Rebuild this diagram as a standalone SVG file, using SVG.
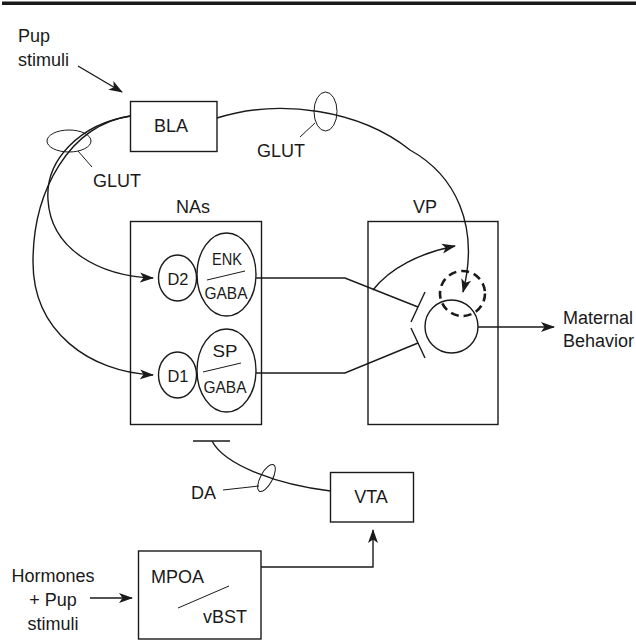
<svg xmlns="http://www.w3.org/2000/svg" width="636" height="644" viewBox="0 0 636 644">
<style>
text{font-family:"Liberation Sans",Arial,sans-serif;font-size:18px;fill:#1a1a1a}
.s{font-size:17px}
.b{fill:none;stroke:#1a1a1a;stroke-width:1.4}
.c{fill:none;stroke:#1a1a1a;stroke-width:1.4}
.ar{marker-end:url(#ah)}
.thin{stroke-width:1}
</style>
<defs>
<marker id="ah" markerUnits="userSpaceOnUse" markerWidth="14" markerHeight="12" viewBox="0 0 14 10" refX="13" refY="5" orient="auto">
<path d="M0,0 L14,5 L0,10 L3.5,5 Z" fill="#1a1a1a"/>
</marker>
</defs>
<rect x="2" y="1.5" width="634" height="3.5" fill="#1a1a1a"/>

<g id="pup-stimuli">
<text x="18" y="42">Pup</text>
<text x="18" y="66">stimuli</text>
</g>
<g id="BLA">
<rect class="b" x="130.5" y="101.5" width="86.5" height="50"/>
<text x="171" y="132" text-anchor="middle">BLA</text>
</g>
<g id="NAs">
<text x="193" y="213" text-anchor="middle">NAs</text>
<rect class="b" x="130.5" y="221.5" width="131" height="203"/>
<ellipse class="b" cx="177.5" cy="278" rx="19" ry="23"/>
<text class="s" x="178" y="285" text-anchor="middle" textLength="21" lengthAdjust="spacingAndGlyphs">D2</text>
<ellipse class="b" cx="226.5" cy="274.5" rx="29.5" ry="41.5"/>
<text class="s" x="227" y="265" text-anchor="middle" textLength="30" lengthAdjust="spacingAndGlyphs">ENK</text>
<line class="b thin" x1="207" y1="280" x2="245" y2="271"/>
<text class="s" x="226" y="299" text-anchor="middle" textLength="43" lengthAdjust="spacingAndGlyphs">GABA</text>
<ellipse class="b" cx="177.5" cy="375" rx="19" ry="23"/>
<text class="s" x="178" y="382" text-anchor="middle" textLength="21" lengthAdjust="spacingAndGlyphs">D1</text>
<ellipse class="b" cx="226.5" cy="370.5" rx="29.5" ry="41.5"/>
<text class="s" x="225" y="357" text-anchor="middle" textLength="25" lengthAdjust="spacingAndGlyphs">SP</text>
<line class="b thin" x1="203" y1="372" x2="241" y2="363"/>
<text class="s" x="225" y="393" text-anchor="middle" textLength="43" lengthAdjust="spacingAndGlyphs">GABA</text>
</g>
<g id="VP">
<text x="425" y="213" text-anchor="middle">VP</text>
<rect class="b" x="368" y="221.5" width="130" height="203"/>
<circle class="b" cx="451.5" cy="326.5" r="26.5"/>
<circle cx="462.5" cy="293.5" r="22.5" fill="none" stroke="#1a1a1a" stroke-width="2.6" stroke-dasharray="8,5"/>
</g>
<g id="maternal">
<text x="563" y="324">Maternal</text>
<text x="563" y="347">Behavior</text>
</g>
<g id="VTA">
<rect class="b" x="330.5" y="472.5" width="83" height="49.5"/>
<text x="371" y="503" text-anchor="middle">VTA</text>
</g>
<g id="MPOA">
<rect class="b" x="138.5" y="551" width="122.5" height="88"/>
<text x="151" y="583">MPOA</text>
<line class="b thin" x1="178" y1="608" x2="229" y2="586"/>
<text x="203" y="623">vBST</text>
</g>
<g id="hormones">
<text x="53" y="582" text-anchor="middle">Hormones</text>
<text x="53" y="606" text-anchor="middle">+ Pup</text>
<text x="53" y="630" text-anchor="middle">stimuli</text>
</g>

<g id="connectors">
<line class="c ar" x1="78" y1="66" x2="122" y2="92"/>
<path class="c ar" d="M130.5,116 C80,124 45,160 48,200 C51,250 100,276 153,278"/>
<path class="c ar" d="M130.5,116 C70,125 33,190 33,262 C33,332 90,372 153,375"/>
<ellipse class="c thin" cx="69" cy="141" rx="22" ry="11"/>
<line class="c thin" x1="78" y1="151" x2="92" y2="167"/>
<text x="93" y="187">GLUT</text>
<path class="c ar" d="M217,118 C280,98 360,110 410,150 C455,175 480,225 463,292"/>
<ellipse class="c thin" cx="325.5" cy="111.5" rx="11.5" ry="19.5"/>
<line class="c thin" x1="315" y1="123" x2="300" y2="137"/>
<text x="257" y="157">GLUT</text>
<polyline class="c" points="256,278 345,278 418,307"/>
<polyline class="c" points="256,373 345,373 418,343"/>
<line class="c" x1="425" y1="292" x2="411" y2="322"/>
<line class="c" x1="411" y1="328" x2="425" y2="358"/>
<path class="c ar" d="M373,290 C390,268 420,253 455,246"/>
<line class="c ar" x1="478" y1="327" x2="554" y2="327"/>
<line class="c" x1="193" y1="441" x2="230" y2="441"/>
<path class="c" d="M212,441 C225,466 280,485 330.5,491"/>
<ellipse class="c thin" cx="266.5" cy="478" rx="6" ry="15" transform="rotate(28 266.5 478)"/>
<line class="c thin" x1="223" y1="490" x2="259" y2="486"/>
<text x="191" y="499">DA</text>
<polyline class="c ar" points="261,567 373,567 373,530"/>
<line class="c ar" x1="90" y1="598" x2="132" y2="598"/>
</g>
</svg>
